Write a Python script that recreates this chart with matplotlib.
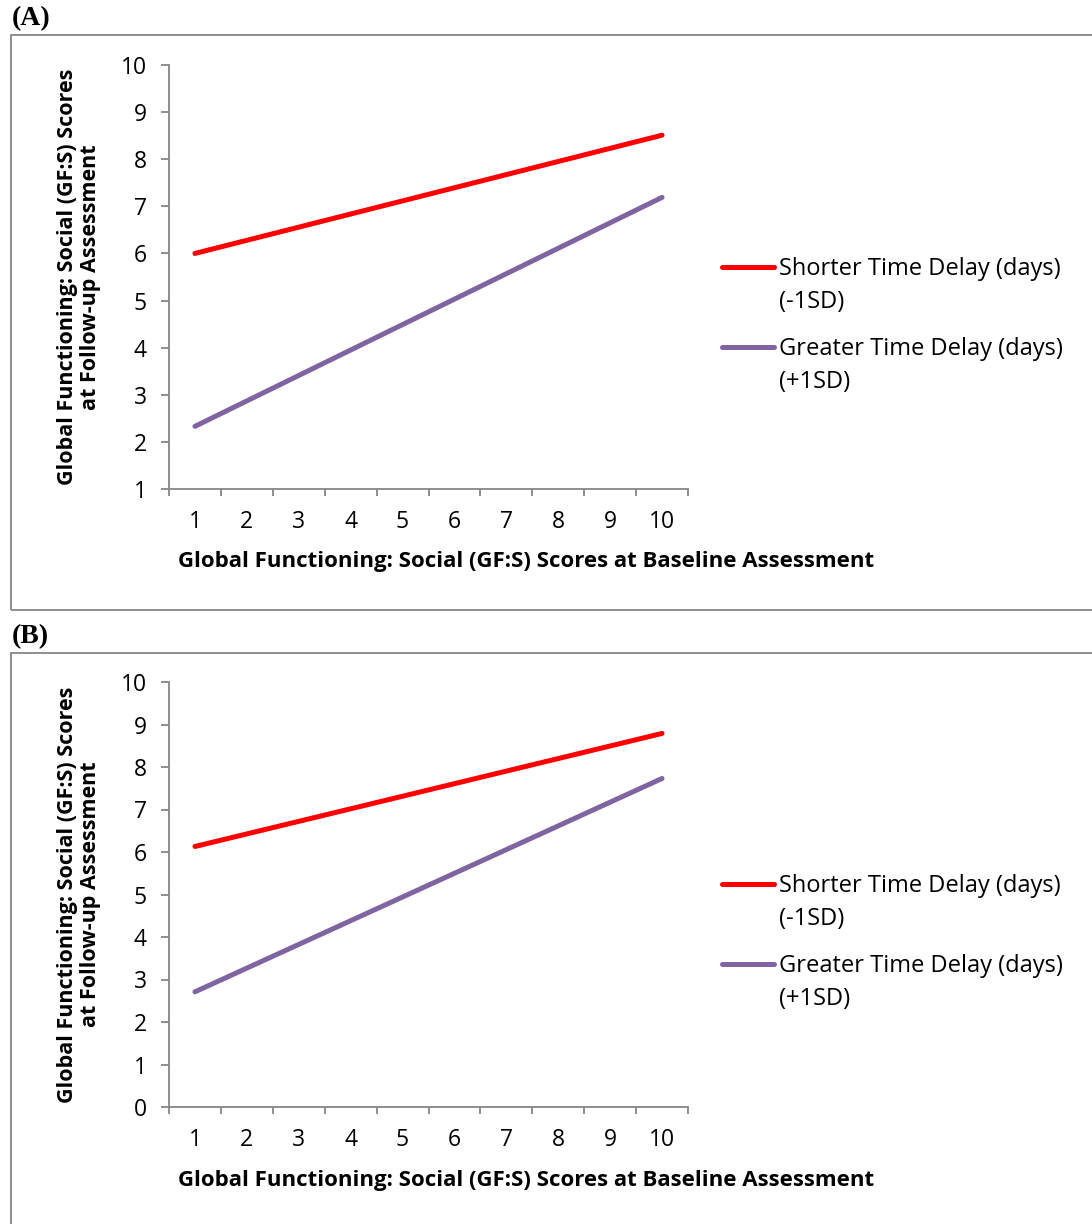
import numpy as np
import matplotlib
matplotlib.use("Agg")
import matplotlib.pyplot as plt
from matplotlib.lines import Line2D
from matplotlib.patches import Rectangle

plt.rcParams['font.family'] = ['Open Sans', 'DejaVu Sans']

# baseline GF:S categories shown on the x axis
categories = [1, 2, 3, 4, 5, 6, 7, 8, 9, 10]
# simple slopes: predicted follow-up scores at the lowest and highest baseline score
endpoints = [1, 10]
short_A = [6.00, 8.51]
long_A = [2.33, 7.19]
short_B = [6.13, 8.79]
long_B = [2.71, 7.73]

series_labels = ["Shorter Time Delay (days)\n(-1SD)",
                 "Greater Time Delay (days)\n(+1SD)"]
series_colors = ["#FF0000", "#8064A2"]

xlabel = "Global Functioning: Social (GF:S) Scores at Baseline Assessment"
ylabel = "Global Functioning: Social (GF:S) Scores\nat Follow-up Assessment"

GREY = "#868686"
FS = 16.5
W, H = 1092, 1224
fig = plt.figure(figsize=(W / 100, H / 100), dpi=100)


def px_box(left, top, right, bottom):
    return [left / W, 1 - bottom / H, (right - left) / W, (bottom - top) / H]


def draw_panel(rect, series, ymin, panel_tag, frame):
    # outer frame round the panel, open to the right (and bottom for B)
    fig.add_artist(Rectangle((frame[0] / W, 1 - frame[3] / H),
                             (frame[2] - frame[0]) / W, (frame[3] - frame[1]) / H,
                             transform=fig.transFigure, fill=False,
                             edgecolor=GREY, lw=1.3, clip_on=False))
    fig.text(12 / W, 1 - (frame[1] - 4) / H, panel_tag, family="Liberation Serif",
             fontweight="bold", fontsize=20, ha="left", va="bottom")

    ax = fig.add_axes(rect)
    pos = {c: i for i, c in enumerate(categories)}
    for vals, col in zip(series, series_colors):
        xs = [pos[c] for c in endpoints]
        ax.plot(xs, vals, color=col, lw=3.6, solid_capstyle="round")

    ax.set_xlim(-0.5, len(categories) - 0.5)
    ax.set_ylim(ymin, 10)
    ax.set_yticks(np.arange(ymin, 11))
    ax.set_xticks(np.arange(len(categories)))
    ax.set_xticklabels([str(c) for c in categories])
    ax.set_xticks(np.arange(len(categories) + 1) - 0.5, minor=True)
    ax.tick_params(axis="x", which="major", length=0, pad=15, labelsize=FS)
    ax.tick_params(axis="x", which="minor", length=5, width=1.3, color=GREY)
    ax.tick_params(axis="y", length=6, width=1.3, color=GREY, pad=10, labelsize=FS)

    for s in ("top", "right"):
        ax.spines[s].set_visible(False)
    for s in ("left", "bottom"):
        ax.spines[s].set_color(GREY)
        ax.spines[s].set_linewidth(1.3)

    ax.set_xlabel(xlabel, fontweight="bold", fontsize=16, va="center")
    ax.xaxis.set_label_coords(0.688, -0.172)
    ax.set_ylabel(ylabel, fontweight="bold", fontsize=15.5, va="center", linespacing=1.15)
    ax.yaxis.set_label_coords(-0.173, 0.5)

    # legend drawn beside the plot, handle level with the first text line
    ppx = 1 / (rect[3] * H)  # one pixel in axes units
    for lab, col, yy in zip(series_labels, series_colors, [0.524, 0.336]):
        ax.add_line(Line2D([1.0655, 1.1657], [yy, yy], transform=ax.transAxes,
                           color=col, lw=3.6, solid_capstyle="round", clip_on=False))
        for k, part in enumerate(lab.split("\n")):
            ax.text(1.175, yy - (8 + 33 * k) * ppx, part, transform=ax.transAxes,
                    fontsize=17, ha="left", va="baseline")
    return ax


draw_panel(px_box(169, 65, 688, 489), [short_A, long_A], 1, "(A)",
           (11, 35, 1100, 610))
draw_panel(px_box(169, 682, 688, 1107), [short_B, long_B], 0, "(B)",
           (11, 653, 1100, 1240))

fig.savefig("out.png", dpi=100, facecolor="white")
